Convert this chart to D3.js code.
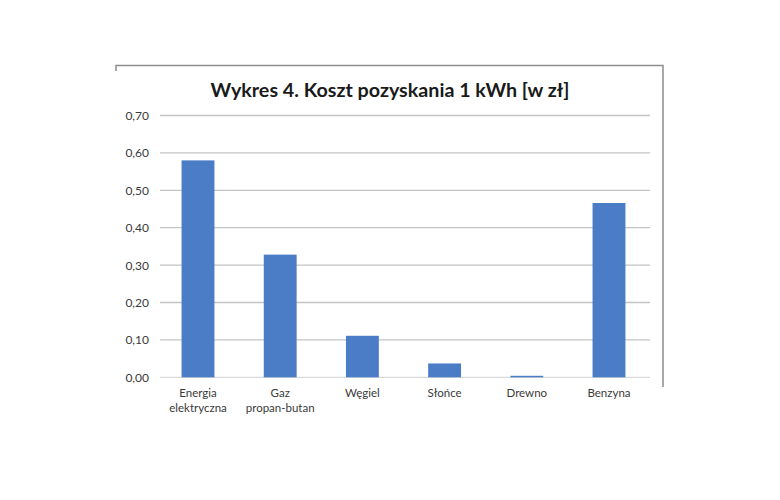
<!DOCTYPE html>
<html><head><meta charset="utf-8">
<script src="https://cdn.jsdelivr.net/npm/d3@7"></script>
<style>body{margin:0;background:#fff}</style>
</head><body>
<svg id="c" width="780" height="500"></svg>
<script>
const categories = [["Energia","elektryczna"],["Gaz","propan-butan"],["Węgiel"],["Słońce"],["Drewno"],["Benzyna"]];
const values = [0.58, 0.328, 0.111, 0.037, 0.004, 0.466];
const yTicks = [0, 0.1, 0.2, 0.3, 0.4, 0.5, 0.6, 0.7];
const title = "Wykres 4. Koszt pozyskania 1 kWh [w zł]";

(function(){
const svg = d3.select("#c");
const pLeft = 160, pRight = 650, pTop = 115.5, pBottom = 377.3;
const font = "Lato, 'Open Sans', sans-serif";

// frame
svg.append("path").attr("d", `M116,71 V65.5 H663 V387`).attr("fill","none").attr("stroke","#8c8c8c").attr("stroke-width",1.5);

const x = d3.scaleBand().domain(categories.map((d,i)=>i)).range([156.9,650.1]).paddingInner(0.6).paddingOuter(0.3);
const y = d3.scaleLinear().domain([0,0.7]).range([pBottom, pTop]);

// gridlines
svg.append("g").selectAll("line").data(yTicks).join("line")
  .attr("x1", pLeft).attr("x2", pRight)
  .attr("y1", d=>y(d)).attr("y2", d=>y(d))
  .attr("stroke", d=> d===0 ? "#d9d9d9" : "#c4c4c4").attr("stroke-width",1.3);

// y labels
const fmt = d => d3.format(".2f")(d).replace(".", ",");
svg.append("g").selectAll("text").data(yTicks).join("text")
  .attr("x", 149).attr("y", d=>y(d)+4.5).attr("text-anchor","end")
  .attr("font-family", font).attr("font-size", 12).attr("fill","#3a3a3a")
  .text(fmt);

// bars
svg.append("g").selectAll("rect").data(values).join("rect")
  .attr("x",(d,i)=>x(i)).attr("width", x.bandwidth())
  .attr("y", d=>y(d)).attr("height", d=>pBottom - y(d))
  .attr("fill","#4a7dc6");

// x labels
const xl = svg.append("g").selectAll("text").data(categories).join("text")
  .attr("x",(d,i)=>x(i)+x.bandwidth()/2).attr("y",397).attr("text-anchor","middle")
  .attr("font-family", font).attr("font-size", 11.5).attr("fill","#3a3a3a");
xl.each(function(d){
  const t = d3.select(this), cx = t.attr("x");
  d.forEach((line,j)=>t.append("tspan").attr("x",cx).attr("dy", j===0?0:15).text(line));
});

// title
svg.append("text").attr("x",390).attr("y",97).attr("text-anchor","middle")
  .attr("font-family", font).attr("font-weight","bold").attr("font-size",19.7).attr("fill","#1a1a1a")
  .text(title);
})();
</script>
</body></html>
